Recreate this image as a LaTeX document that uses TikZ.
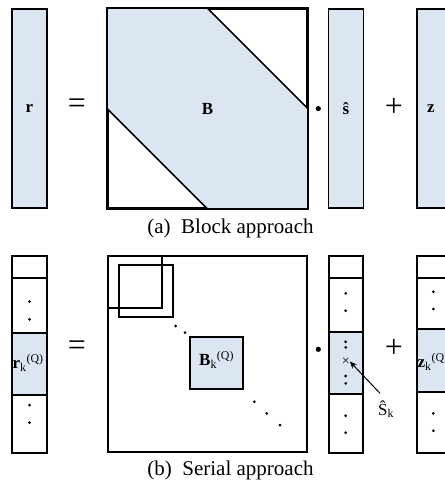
\documentclass[tikz,border=0pt]{standalone}
\usepackage{fontspec}
\setmainfont{Liberation Serif}
\definecolor{cellblue}{RGB}{220,230,242}
\usetikzlibrary{arrows.meta, calc}

\begin{document}
\begin{tikzpicture}[x=1pt, y=-1pt,
  frame/.style={draw, line width=1.7pt},
  vec/.style={draw, line width=1.7pt, fill=cellblue, minimum width=35pt, minimum height=199pt, inner sep=0pt},
  sq/.style={draw, line width=1.7pt, minimum size=199pt, inner sep=0pt},
  lbl/.style={font=\fontsize{17}{19}\selectfont\bfseries, inner sep=0pt},
  opsym/.style={font=\fontsize{32}{34}\selectfont, inner sep=0pt},
  capt/.style={font=\fontsize{21}{24}\selectfont},
  arr/.style={-{Stealth[length=7pt, width=6pt]}, line width=1pt},
]
  \clip (0,0) rectangle (445,483);

  % (a) block approach
  \node[vec] (rvec) at (29.5,108.6) {};
  \node[lbl] (rlbl) at (rvec.center) {r};
  \node[opsym] (eqa) at (77,106) {=};

  \node[sq] (Bmat) at (207.5,108.6) {};
  \fill[cellblue] (Bmat.north west) -- ($(Bmat.north west)!0.5!(Bmat.north east)$)
    -- (Bmat.east) -- (Bmat.south east) -- ($(Bmat.south west)!0.5!(Bmat.south east)$)
    -- (Bmat.west) -- cycle;
  \draw[frame] ($(Bmat.north west)!0.5!(Bmat.north east)$) -- (Bmat.east);
  \draw[frame] (Bmat.west) -- ($(Bmat.south west)!0.5!(Bmat.south east)$);
  \draw[frame] (Bmat.north west) rectangle (Bmat.south east);
  \node[lbl] (Blbl) at (Bmat.center) {B};

  \fill (318.3,108.6) circle (2.6pt);
  \node[vec] (svec) at (346,108.6) {};
  \node[lbl] (slbl) at (svec.center) {\^{s}};
  \node[opsym] (plusa) at (394,107) {+};
  \node[vec] (zvec) at (434.5,108.6) {};
  \node[lbl, anchor=west] (zlbl) at (427,108.6) {z};

  \node[capt] (capa) at (230.5,228) {(a)\ \ Block approach};

  % (b) serial approach
  \fill[cellblue] (12,333.3) rectangle (47,395);
  \draw[frame] (12,255.7) rectangle (47,453);
  \foreach \yy in {277.7,333.3,395} \draw[frame] (12,\yy) -- (47,\yy);
  \foreach \yy in {301.7,319.3,405,422.7} \fill (29.5,\yy) circle (1.5pt);
  \node[lbl, anchor=west] (rklbl) at (12.5,363)
    {r\textsubscript{\mdseries k}\textsuperscript{\mdseries (Q)}};
  \node[opsym] (eqb) at (77,348) {=};

  \draw[frame] (108,255.7) rectangle (307,452.3);
  \draw[frame] (108,255.7) rectangle (162.3,308.3);
  \draw[frame] (119.3,265) rectangle (172.7,317.3);
  \filldraw[fill=cellblue, line width=1.7pt] (190,336.7) rectangle (243.3,389.3);
  \node[lbl] (Bklbl) at (216.6,360)
    {B\textsubscript{\mdseries k}\textsuperscript{\mdseries (Q)}};
  \foreach \px/\py in {175.7/326, 185/332.7, 254.3/401.7, 266.7/413.3, 280/425}
    \fill (\px,\py) circle (1.5pt);

  \fill (318.3,349.3) circle (2.6pt);
  \fill[cellblue] (329,332.3) rectangle (363,394);
  \draw[frame] (329,255.7) rectangle (363,453);
  \foreach \yy in {277.7,332.3,394} \draw[frame] (329,\yy) -- (363,\yy);
  \foreach \yy in {293.3,310.7,341.7,347.3,376,383.3,415.7,432.7} \fill (345.7,\yy) circle (1.5pt);
  \node[inner sep=0pt, font=\fontsize{14}{14}\selectfont] (xmark) at (345.7,361.5) {×};
  \node[inner sep=0pt, font=\fontsize{17}{20}\selectfont] (shat) at (386,409)
    {\^{S}\textsubscript{k}};
  \draw[arr] (380,393.3) -- (xmark.east);

  \node[opsym] (plusb) at (394,348) {+};
  \fill[cellblue] (417,329.3) rectangle (452,391.7);
  \draw[frame] (417,255.7) rectangle (452,453);
  \foreach \yy in {277.7,329.3,391.7} \draw[frame] (417,\yy) -- (452,\yy);
  \foreach \yy in {291.7,309,413.3,430.7} \fill (433.3,\yy) circle (1.5pt);
  \node[lbl, anchor=west] (zklbl) at (417.5,362)
    {z\textsubscript{\mdseries k}\textsuperscript{\mdseries (Q)}};

  \node[capt] (capb) at (230.5,470) {(b)\ \ Serial approach};
\end{tikzpicture}
\end{document}
